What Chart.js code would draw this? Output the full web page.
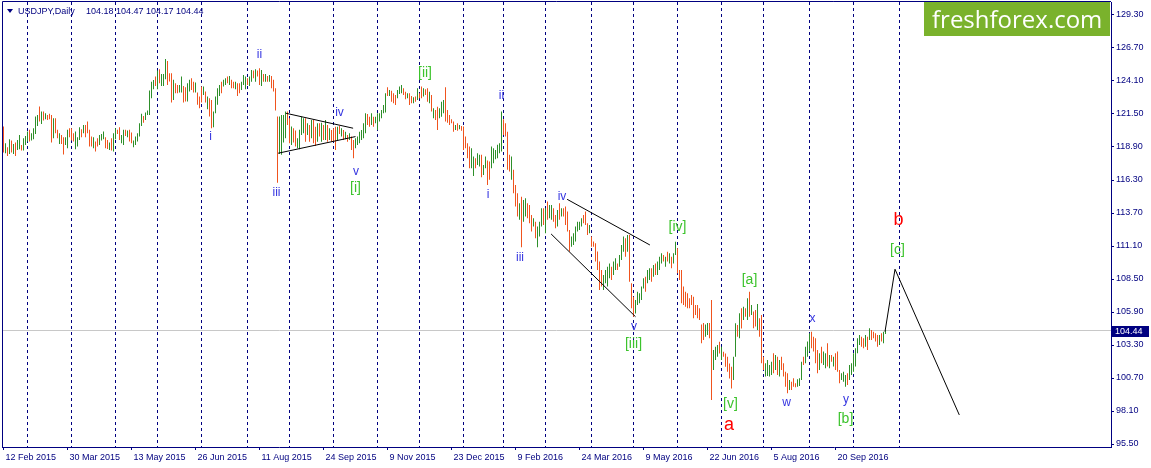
<!DOCTYPE html>
<html>
<head>
<meta charset="utf-8">
<script src="https://cdn.jsdelivr.net/npm/chart.js@4.4.1/dist/chart.umd.min.js"></script>
<style>
  html, body { margin: 0; padding: 0; background: #fff; }
  #myChart { display: block; }
</style>
</head>
<body>
<canvas id="myChart" width="1151" height="468"></canvas>
<script>
// USDJPY daily bars, index 0 = 12 Feb 2015, last = 25 Oct 2016
const highs = [
  120.51,119.20,118.88,119.51,119.41,119.14,119.25,119.46,119.85,119.06,
  119.59,119.77,120.12,120.25,119.98,120.38,121.30,121.43,122.09,121.69,
  121.69,121.56,121.43,121.51,121.43,121.17,121.17,120.25,119.98,119.85,
  119.67,119.67,120.25,120.38,120.38,119.98,120.12,119.67,120.46,120.30,
  120.64,120.64,120.90,120.25,119.72,119.67,119.33,119.59,119.85,119.93,
  120.12,119.67,119.46,119.25,119.59,119.98,120.38,120.25,120.46,119.85,
  120.25,120.25,120.20,120.25,120.04,119.41,119.72,119.98,120.77,121.51,
  121.35,121.61,121.77,123.35,124.05,124.18,124.45,124.92,125.03,124.66,
  124.66,125.84,125.68,124.71,124.71,124.19,123.92,123.79,123.79,124.45,
  123.71,123.61,123.92,124.19,124.32,124.05,123.98,123.19,122.87,123.66,
  123.66,123.27,122.87,122.74,122.61,121.69,122.87,123.53,123.79,124.05,
  124.19,124.32,124.45,124.50,124.19,124.05,124.05,123.92,123.92,124.05,
  124.58,124.45,124.32,124.45,124.97,124.92,125.03,124.92,125.11,124.97,
  124.66,124.66,124.50,124.58,124.50,124.19,123.53,121.30,121.30,121.43,
  121.43,121.69,121.69,121.17,120.51,120.38,120.20,119.59,120.25,121.29,
  121.16,121.16,120.77,120.64,121.03,121.03,120.50,120.77,120.77,120.82,
  120.64,121.03,120.64,120.37,120.24,120.37,120.50,120.50,120.56,120.37,
  120.24,120.11,119.85,119.98,119.72,119.45,119.59,119.72,120.11,120.24,
  120.77,121.56,121.50,121.29,121.56,121.29,121.29,121.56,121.56,121.82,
  122.21,123.13,123.60,123.39,123.34,123.13,123.00,123.39,123.66,123.79,
  123.53,123.26,123.13,123.13,122.92,122.82,122.87,123.53,123.13,123.66,
  123.53,123.45,123.53,123.26,123.00,121.95,121.82,122.08,121.95,122.47,
  122.61,123.60,121.82,121.42,121.09,120.90,120.64,120.77,120.64,120.56,
  120.51,119.72,119.20,118.93,118.80,118.15,118.01,118.41,118.28,118.28,
  117.49,118.15,117.83,117.75,118.93,118.80,118.67,119.07,119.20,121.69,
  121.09,120.77,120.11,118.28,118.15,117.10,115.91,115.26,114.47,114.99,
  114.73,114.86,114.47,114.34,113.55,113.29,113.02,112.63,113.02,114.07,
  114.07,114.07,114.60,114.34,114.34,114.07,113.55,113.94,114.47,114.07,
  114.07,114.21,113.81,112.37,111.84,112.10,112.63,113.02,113.02,113.29,
  113.55,113.81,112.89,112.76,111.84,111.45,111.32,110.66,109.87,109.21,
  108.82,109.21,109.47,109.73,109.47,109.87,110.13,109.73,110.39,111.18,
  111.84,111.71,111.97,111.97,108.16,107.11,106.85,107.50,107.37,107.90,
  108.55,108.68,109.21,109.34,109.34,109.60,109.73,109.87,110.26,110.52,
  110.39,110.26,110.65,110.52,110.26,110.52,111.44,110.92,109.21,109.21,
  107.90,107.50,107.37,106.98,107.24,107.11,106.45,106.45,106.19,104.91,
  105.04,104.91,105.04,105.04,106.84,102.90,103.17,103.30,103.56,103.17,
  102.77,102.64,102.38,101.85,101.59,102.38,105.01,104.88,105.80,106.19,
  106.32,106.19,106.98,107.50,106.46,105.93,106.06,106.53,105.40,105.67,
  102.38,101.86,102.12,101.73,101.99,102.65,102.51,102.38,102.12,102.38,
  101.86,101.20,101.07,100.54,100.41,100.68,100.28,100.60,100.68,101.99,
  102.38,103.17,103.57,104.22,104.35,103.96,103.83,102.91,102.65,103.17,
  102.78,102.65,103.43,102.51,102.51,102.38,102.65,102.78,101.33,101.07,
  101.20,100.94,101.07,101.73,101.86,102.65,103.04,103.83,104.09,103.96,
  103.83,104.09,103.96,104.62,104.49,104.35,104.22,104.09,104.09,104.22,
  104.35,104.47
];
const lows = [
  118.46,118.41,118.20,118.35,118.46,118.35,118.20,118.67,118.72,118.62,
  118.62,119.06,119.33,119.33,119.41,119.51,119.93,120.56,120.90,120.72,
  120.98,121.09,121.03,121.09,119.25,119.59,119.98,119.59,119.14,119.14,
  118.30,119.06,118.80,119.67,119.41,119.33,118.72,118.93,119.46,119.67,
  119.98,119.67,119.98,118.93,118.93,118.80,118.54,118.93,119.06,119.41,
  119.51,118.80,118.75,118.67,118.62,118.54,119.51,119.93,119.46,119.20,
  119.06,119.77,119.67,119.33,119.20,118.88,119.06,119.33,119.72,120.56,
  120.82,121.03,121.43,121.43,122.74,123.45,123.71,123.45,123.92,123.71,
  123.71,124.24,123.79,124.06,122.40,122.61,123.14,123.14,123.19,123.19,
  122.40,122.48,122.48,123.27,123.40,123.19,123.19,122.22,121.95,122.40,
  123.00,122.40,121.87,121.30,120.38,120.46,121.56,122.22,122.92,123.14,
  123.66,123.79,123.92,123.79,123.53,123.53,123.45,122.92,123.14,123.40,
  123.79,123.45,123.79,123.71,124.05,124.32,124.05,124.45,123.79,123.71,
  124.05,124.05,124.05,124.05,123.53,123.27,121.77,116.09,118.35,118.28,
  119.25,119.59,120.64,119.20,119.06,119.25,118.93,118.80,118.72,119.85,
  119.98,119.32,119.85,119.32,119.59,119.19,118.98,119.32,119.72,119.32,
  119.45,119.45,119.32,119.45,119.32,119.32,118.67,119.45,119.93,119.72,
  119.45,119.51,119.32,119.45,118.67,118.01,118.80,119.06,119.19,119.45,
  119.59,119.98,120.64,120.50,120.64,120.50,120.77,120.24,120.90,121.16,
  121.56,121.61,122.92,122.92,122.47,122.34,122.21,122.74,123.08,123.13,
  123.00,122.66,122.74,122.21,122.34,122.34,122.47,122.61,122.74,122.74,
  122.87,123.00,122.47,122.34,121.69,121.16,121.03,120.24,121.16,121.29,
  121.56,120.90,120.82,120.64,120.77,120.11,120.24,120.19,120.30,120.19,
  118.67,118.80,118.02,117.23,117.23,116.62,117.23,117.49,117.36,116.52,
  116.70,117.23,115.91,116.31,117.23,117.62,117.94,118.02,118.41,118.54,
  119.85,119.72,117.10,116.96,116.31,115.26,114.21,113.42,113.16,111.00,
  113.02,113.42,113.29,112.89,112.24,112.63,111.71,111.00,111.84,112.63,
  112.76,112.10,113.16,113.29,113.16,113.02,112.50,112.63,113.16,113.42,
  113.42,112.76,112.24,110.66,111.05,111.18,111.45,112.24,112.37,112.63,
  112.89,112.76,111.97,112.10,111.05,111.05,109.87,109.21,107.64,107.90,
  107.63,108.16,107.90,108.55,108.42,108.82,109.21,109.21,109.47,110.00,
  110.65,110.26,110.65,108.29,106.19,105.53,105.79,106.45,106.58,106.85,
  107.76,107.50,108.16,108.42,108.29,108.68,108.82,108.82,109.21,109.73,
  109.87,109.47,109.87,109.73,109.34,109.73,110.39,108.95,108.42,106.58,
  106.45,106.32,106.19,106.19,106.45,105.40,105.66,105.40,105.27,103.43,
  103.70,103.96,104.09,103.83,98.97,101.33,102.12,102.38,102.64,102.12,
  102.38,101.59,101.20,100.67,99.88,100.54,102.38,103.96,103.83,104.61,
  105.27,105.53,105.27,105.53,105.67,104.62,104.75,104.49,103.96,101.86,
  101.33,100.81,100.86,100.81,100.94,101.07,101.33,100.94,100.81,101.33,
  100.81,100.02,99.49,99.76,99.76,100.02,99.97,100.02,100.07,100.54,
  101.73,101.86,102.38,102.78,103.04,102.78,101.86,101.07,101.33,101.86,
  101.73,101.46,101.60,101.46,101.99,101.60,101.33,101.20,100.28,100.54,
  100.41,100.02,100.15,100.54,100.94,101.20,101.60,102.65,103.30,103.17,
  103.04,103.17,102.91,103.70,103.70,103.83,103.57,103.17,103.30,103.57,
  103.43,104.17
];
const opens = [
  120.20,118.60,118.70,118.50,119.20,118.60,119.00,118.80,119.00,118.95,
  118.80,119.20,119.50,120.10,119.50,119.70,120.10,120.90,121.80,121.00,
  121.50,121.15,121.40,121.40,121.20,119.80,120.90,120.10,119.30,119.70,
  119.40,119.10,119.20,120.20,120.10,119.80,119.00,119.10,119.60,120.20,
  120.10,120.50,120.70,120.10,119.50,119.00,119.20,119.40,119.20,119.50,
  119.70,119.50,119.30,118.80,119.40,118.70,119.70,120.20,120.30,119.30,
  119.30,120.20,119.80,120.10,119.90,119.00,119.20,119.50,119.80,120.70,
  121.30,121.10,121.50,121.60,123.00,123.60,124.30,123.60,124.80,123.90,
  123.90,124.40,125.50,124.60,124.50,122.80,123.80,123.70,123.30,123.40,
  123.60,123.40,122.70,123.50,124.10,123.90,123.40,123.00,122.70,123.40,
  123.10,123.10,122.10,122.60,122.40,120.70,121.70,122.50,123.10,123.90,
  123.70,123.90,124.30,123.90,124.10,123.90,123.60,123.80,123.80,123.50,
  123.90,123.60,124.20,123.80,124.20,124.80,124.20,124.80,124.90,123.90,
  124.50,124.20,124.40,124.15,124.40,124.00,123.40,121.10,118.60,118.60,
  119.60,119.90,121.50,121.00,119.30,120.20,120.00,118.90,118.90,120.00,
  120.20,121.00,120.00,120.50,119.70,120.90,120.30,119.50,120.60,119.50,
  120.50,119.60,120.50,119.60,120.10,120.20,120.30,119.60,120.40,119.80,
  120.10,119.60,119.80,119.50,119.60,119.30,118.90,119.20,119.40,119.60,
  119.80,120.20,121.40,121.10,120.80,121.20,120.90,120.50,121.00,121.30,
  121.70,121.80,123.40,123.00,123.20,123.00,122.80,122.80,123.20,123.30,
  123.40,123.10,122.80,123.00,122.80,122.40,122.75,122.70,123.10,123.50,
  123.00,123.40,123.40,122.50,122.90,121.30,121.70,121.90,121.30,121.50,
  121.70,122.50,121.70,121.30,121.00,120.80,120.30,120.60,120.35,120.50,
  120.40,119.60,119.00,118.70,117.50,116.90,117.90,117.60,117.50,118.10,
  116.80,117.40,117.70,117.60,117.40,117.80,118.00,118.20,118.60,118.70,
  120.90,120.50,119.90,118.10,116.60,116.90,115.70,115.00,113.30,114.70,
  113.20,113.60,114.30,114.10,113.30,112.70,112.90,111.20,112.00,112.80,
  113.90,112.30,114.40,113.40,113.30,113.90,113.40,112.80,114.30,113.50,
  113.95,114.00,113.60,112.20,111.20,111.30,111.60,112.40,112.50,112.80,
  113.40,113.60,112.80,112.20,111.70,111.40,111.20,110.50,109.70,109.00,
  107.80,108.30,108.10,108.70,109.30,109.00,109.40,109.65,109.60,110.20,
  110.90,111.50,110.80,111.70,108.00,106.90,105.90,106.60,106.70,107.00,
  107.90,108.50,108.30,108.60,109.20,108.80,109.60,109.00,109.40,109.90,
  110.30,109.60,110.50,109.90,110.10,109.80,110.50,110.80,109.10,109.00,
  107.70,107.30,107.20,106.90,107.10,106.90,106.30,106.30,106.00,104.80,
  104.90,104.10,104.20,104.90,106.10,101.60,102.30,102.50,103.40,102.30,
  102.70,102.50,102.20,101.70,101.40,100.70,102.60,104.70,104.10,106.00,
  105.40,106.10,105.50,107.30,105.80,105.80,105.90,104.70,105.20,105.40,
  102.20,101.00,101.10,101.00,101.10,102.40,101.50,102.20,101.00,102.20,
  101.70,101.00,100.90,99.90,100.30,100.50,100.20,100.10,100.20,100.70,
  102.20,102.00,102.50,102.90,104.10,103.80,103.60,102.70,101.50,103.00,
  101.90,101.60,103.20,101.60,102.40,101.70,102.50,102.60,101.20,100.60,
  100.50,100.20,100.90,100.70,101.10,101.40,101.80,102.80,103.40,103.80,
  103.70,103.30,103.80,103.80,104.30,104.20,104.10,103.90,103.40,104.10,
  103.60,104.18
];
const closes = [
  118.80,119.00,118.40,119.30,118.70,119.00,118.40,119.30,119.70,118.70,
  119.40,119.60,120.00,119.50,119.85,120.25,121.10,121.30,121.10,121.50,
  121.10,121.45,121.10,121.20,119.50,120.90,120.10,119.70,119.80,119.30,
  118.70,119.50,120.10,119.80,119.60,119.50,119.90,119.50,120.30,119.80,
  120.50,119.80,120.10,119.20,119.10,119.50,118.70,119.10,119.70,119.85,
  120.00,119.00,118.90,119.15,118.80,119.80,120.20,120.00,119.60,119.75,
  120.10,119.90,120.10,119.50,119.30,119.30,119.60,119.90,120.60,121.30,
  121.00,121.50,121.70,123.20,123.90,124.00,123.90,124.70,124.10,124.50,
  124.50,125.60,124.00,124.20,122.70,123.90,123.30,123.30,123.60,124.30,
  122.60,122.70,123.70,124.00,123.60,123.40,123.80,122.50,122.10,122.60,
  123.50,122.60,122.70,121.50,120.70,121.50,122.70,123.30,123.60,123.40,
  124.10,124.20,124.00,124.40,123.60,123.60,123.90,123.10,123.30,123.90,
  124.40,124.30,123.90,124.30,124.80,124.40,124.90,124.50,124.00,124.70,
  124.20,124.50,124.15,124.45,123.70,123.40,122.00,118.40,120.40,120.90,
  121.20,121.50,120.80,119.40,120.20,119.50,119.10,119.40,120.10,121.10,
  121.00,119.50,120.60,119.50,120.90,119.40,119.20,120.60,119.90,120.60,
  119.60,120.90,119.50,120.20,119.50,119.50,118.90,120.30,120.00,120.25,
  119.60,120.00,119.40,119.90,118.90,118.30,119.40,119.60,120.00,120.10,
  120.60,121.40,120.80,120.70,121.40,120.70,121.20,121.40,121.45,121.70,
  122.10,123.00,123.10,123.30,122.70,122.50,122.40,123.30,123.50,123.70,
  123.10,122.80,123.00,122.40,122.50,122.70,122.55,123.40,122.85,122.90,
  123.40,123.10,122.60,123.10,121.90,121.80,121.20,120.50,121.80,122.30,
  122.50,121.20,121.00,120.80,120.85,120.30,120.55,120.30,120.55,120.25,
  119.00,118.90,118.30,117.50,118.60,117.90,117.40,118.30,118.10,116.80,
  117.40,118.00,116.30,116.50,118.80,118.60,118.50,118.90,119.00,121.10,
  120.10,119.90,117.50,117.20,117.90,115.50,114.40,113.60,114.30,112.40,
  114.50,114.60,113.50,113.10,112.50,113.10,111.90,112.40,112.90,113.90,
  113.00,113.90,113.40,114.10,114.10,113.20,112.70,113.70,113.40,113.90,
  113.55,113.00,112.40,110.90,111.70,111.90,112.50,112.90,112.90,113.20,
  113.00,112.90,112.10,112.60,111.20,111.10,110.10,109.40,107.90,108.10,
  108.60,109.00,109.30,109.60,108.60,109.70,110.00,109.30,110.20,111.00,
  111.60,110.50,111.80,108.70,106.40,105.80,106.60,107.30,107.20,107.80,
  108.40,107.70,109.00,109.20,108.50,109.40,109.00,109.70,110.10,110.40,
  110.00,110.10,110.00,110.40,109.50,110.40,111.30,109.20,108.60,106.60,
  106.70,106.50,106.40,106.30,106.60,105.60,105.80,105.60,105.40,103.70,
  103.90,104.70,104.90,104.00,102.20,102.60,103.00,103.10,102.80,103.00,
  102.45,101.80,101.40,100.90,100.50,102.20,104.80,104.20,105.60,104.90,
  106.10,105.70,106.80,105.80,106.30,104.80,104.90,106.30,104.20,102.10,
  101.50,101.70,101.90,101.60,101.80,101.30,102.30,101.10,101.90,101.50,
  101.00,100.20,99.80,100.40,99.90,100.20,100.05,100.50,100.60,101.80,
  101.90,103.00,103.40,104.00,103.20,103.00,102.00,101.30,102.40,102.00,
  102.60,102.50,101.80,102.30,102.10,102.20,101.50,101.40,100.50,100.90,
  101.00,100.80,100.30,101.60,101.70,102.50,102.90,103.70,103.90,103.40,
  103.20,103.90,103.10,104.40,103.90,103.95,103.70,103.40,103.90,103.70,
  104.20,104.44
];

// x axis: bar index of each date label
const dateTickIndex = [0, 32, 64, 96, 128, 160, 192, 224, 256, 288, 320, 352, 384, 416];
const dateLabels = ["12 Feb 2015", "30 Mar 2015", "13 May 2015", "26 Jun 2015", "11 Aug 2015",
  "24 Sep 2015", "9 Nov 2015", "23 Dec 2015", "9 Feb 2016", "24 Mar 2016",
  "9 May 2016", "22 Jun 2016", "5 Aug 2016", "20 Sep 2016"];
// first bar of every month (period separators)
const monthStarts = [12, 34, 56, 77, 99, 122, 143, 165, 187, 208, 230, 250, 271,
  294, 315, 337, 359, 380, 403, 425, 448];
const priceTicks = [95.50, 98.10, 100.70, 103.30, 105.90, 108.50, 111.10, 113.70,
  116.30, 118.90, 121.50, 124.10, 126.70, 129.30];

// wave marks: [text, bar index, price, kind]
const waveLabels = [
  ["ii", 128, 126.15, "minor"], ["i", 103.5, 119.69, "minor"], ["iii", 136.5, 115.28, "minor"],
  ["iv", 168, 121.58, "minor"], ["v", 176.3, 116.97, "minor"], ["[i]", 176, 115.63, "minute"],
  ["[ii]", 210.75, 124.74, "minute"], ["ii", 249, 122.92, "minor"], ["i", 242.25, 115.12, "minor"],
  ["iii", 258.25, 110.16, "minor"], ["iv", 279.25, 114.96, "minor"], ["v", 315.25, 104.72, "minor"],
  ["[iii]", 315, 103.38, "minute"], ["[iv]", 337, 112.60, "minute"], ["[a]", 373, 108.42, "minute"],
  ["[v]", 363.5, 98.61, "minute"], ["a", 362.75, 97.0, "major"], ["x", 404.5, 105.39, "minor"],
  ["w", 391.5, 98.73, "minor"], ["y", 421.25, 98.97, "minor"], ["[b]", 421, 97.43, "minute"],
  ["b", 447.5, 113.11, "major"], ["[c]", 447, 110.79, "minute"]
];
// trend lines and the forecast path: [bar index, price] points
const trendLines = [
  [[141.2, 121.56], [174.8, 120.38]],
  [[137.3, 118.41], [176, 119.72]],
  [[281.8, 114.78], [323.2, 111.18]],
  [[273.8, 112.05], [316, 105.53]],
  [[440.75, 104.35], [445.75, 109.27], [477.9, 97.79]]
];

const labelStyle = {
  minor: { color: "#3535e0", font: '12px "Liberation Sans"' },
  minute: { color: "#3cc32c", font: '14px "Liberation Sans"' },
  major: { color: "#ff0000", font: '18px "Liberation Sans"' }
};
const navy = "#000080";

Chart.defaults.font.family = '"Liberation Sans", Arial, sans-serif';

let barData = highs.map(function (h, i) { return { x: i, y: [lows[i], h] }; });
let barColors = closes.map(function (c, i) { return c >= opens[i] ? "#2e8f2a" : "#f0541e"; });

const terminalExtras = {
  id: "terminalExtras",
  beforeDatasetsDraw(chart) {
    const { ctx, chartArea: area, scales } = chart;
    ctx.save();
    // bid line
    const bidY = Math.floor(scales.y.getPixelForValue(closes[closes.length - 1])) + 0.5;
    ctx.strokeStyle = "#c8c8c8";
    ctx.lineWidth = 1;
    ctx.beginPath(); ctx.moveTo(area.left, bidY); ctx.lineTo(area.right, bidY); ctx.stroke();
    // month separators
    ctx.strokeStyle = navy;
    ctx.setLineDash([3, 3]);
    monthStarts.forEach(function (i) {
      const px = Math.floor(scales.x.getPixelForValue(i)) + 0.5;
      ctx.beginPath(); ctx.moveTo(px, area.top); ctx.lineTo(px, area.bottom); ctx.stroke();
    });
    ctx.restore();
  },
  afterDraw(chart) {
    const { ctx, chartArea: area, scales } = chart;
    ctx.save();
    // left + top frame
    ctx.strokeStyle = navy;
    ctx.lineWidth = 1;
    ctx.beginPath();
    ctx.moveTo(area.left + 0.5, area.bottom); ctx.lineTo(area.left + 0.5, area.top - 0.5);
    ctx.lineTo(area.right, area.top - 0.5);
    ctx.stroke();

    // wave labels
    ctx.textAlign = "center";
    ctx.textBaseline = "middle";
    waveLabels.forEach(function (w) {
      const st = labelStyle[w[3]];
      ctx.font = st.font;
      ctx.fillStyle = st.color;
      ctx.fillText(w[0], scales.x.getPixelForValue(w[1]), scales.y.getPixelForValue(w[2]));
    });

    // header
    ctx.fillStyle = navy;
    ctx.beginPath(); ctx.moveTo(7, 9); ctx.lineTo(13, 9); ctx.lineTo(10, 13); ctx.closePath(); ctx.fill();
    ctx.font = '9px "Liberation Sans"';
    ctx.textAlign = "left";
    ctx.textBaseline = "alphabetic";
    const last = closes.length - 1;
    ctx.fillText("USDJPY,Daily", 18, 14);
    ctx.fillText([opens[last], highs[last], lows[last], closes[last]].map(function (v) { return v.toFixed(2); }).join(" "), 86, 14);

    // logo
    ctx.fillStyle = "#7ab22c";
    ctx.fillRect(924, 2, 186, 34);
    ctx.fillStyle = "#ffffff";
    ctx.font = '24px "Open Sans"';
    ctx.fillText("freshforex.com", 932, 28);

    // bid price tag on the axis
    const bidY = scales.y.getPixelForValue(closes[last]);
    ctx.fillStyle = navy;
    ctx.fillRect(area.right + 1, Math.round(bidY) - 5, 37, 11);
    ctx.fillStyle = "#ffffff";
    ctx.font = '9px "Liberation Sans"';
    ctx.textBaseline = "middle";
    ctx.fillText(closes[last].toFixed(2), area.right + 4, Math.round(bidY) + 0.5);
    ctx.restore();
  }
};

const ctx = document.getElementById("myChart").getContext("2d");

let lineSets = trendLines.map(function (pts) {
  return {
    type: "line",
    data: pts.map(function (p) { return { x: p[0], y: p[1] }; }),
    borderColor: "#000000",
    borderWidth: 1,
    pointRadius: 0,
    tension: 0,
    fill: false,
    order: 1
  };
});

let myChart = new Chart(ctx, {
  type: "bar",
  data: {
    datasets: [{
      type: "bar",
      label: "USDJPY",
      data: barData,
      backgroundColor: barColors,
      borderWidth: 0,
      barThickness: 1,
      inflateAmount: 0,
      order: 2
    }].concat(lineSets)
  },
  options: {
    responsive: false,
    animation: false,
    layout: { padding: { left: 2, top: 2, right: 0, bottom: 0 } },
    plugins: { legend: { display: false }, tooltip: { enabled: false } },
    scales: {
      x: {
        type: "linear",
        position: "bottom",
        min: -0.75,
        max: 553.75,
        offset: false,
        grid: { drawOnChartArea: false, offset: false, color: navy, tickLength: 3 },
        border: { display: true, color: navy },
        ticks: {
          autoSkip: false, maxRotation: 0, minRotation: 0, align: "start", labelOffset: 2, padding: 2,
          color: navy, font: { size: 9 },
          callback: function (v, i) { return dateLabels[i]; }
        },
        afterBuildTicks: function (scale) { scale.ticks = dateTickIndex.map(function (v) { return { value: v }; }); },
        afterFit: function (scale) {
          scale.height = 21;
          scale.paddingLeft = 0; scale.paddingRight = 0; scale.paddingTop = 0; scale.paddingBottom = 0;
        }
      },
      y: {
        type: "linear",
        position: "right",
        min: 95.264,
        max: 130.324,
        beginAtZero: false,
        grid: { drawOnChartArea: false, color: navy, tickLength: 3 },
        border: { display: true, color: navy },
        ticks: {
          color: navy, font: { size: 9 }, padding: 2,
          callback: function (v) { return v.toFixed(2); }
        },
        afterBuildTicks: function (scale) { scale.ticks = priceTicks.map(function (v) { return { value: v }; }); },
        afterFit: function (scale) {
          scale.width = 40;
          scale.paddingLeft = 0; scale.paddingRight = 0; scale.paddingTop = 0; scale.paddingBottom = 0;
        }
      }
    }
  },
  plugins: [terminalExtras]
});
</script>
</body>
</html>
